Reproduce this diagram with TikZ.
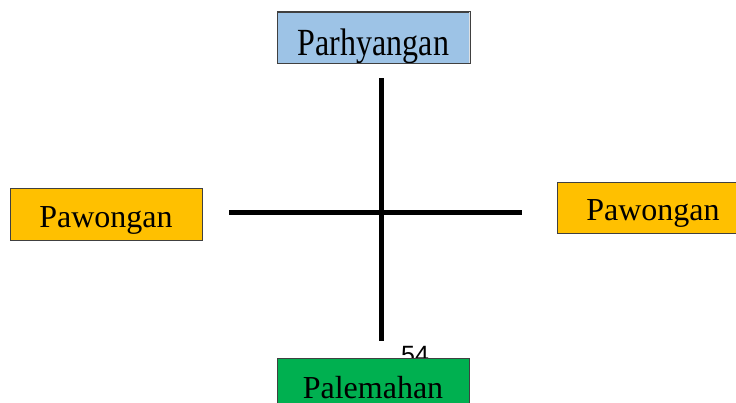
\documentclass[tikz,border=0pt]{standalone}
\usepackage{fontspec}
\setmainfont{Liberation Serif}
\newfontfamily\numfont{Liberation Sans}
\usepackage{xcolor}
\usepackage{tikz}
\usetikzlibrary{positioning, calc}

\definecolor{skyblue}{RGB}{157,195,230}
\definecolor{amber}{RGB}{255,192,0}
\definecolor{leafgreen}{RGB}{0,176,80}

\tikzset{
    box/.style={draw=black!75, line width=0.9pt, minimum width=192pt, minimum height=51pt,
        inner sep=0pt, text depth=0pt, font=\fontsize{32}{32}\selectfont},
    cross/.style={line width=5pt}
}

\begin{document}
\begin{tikzpicture}[x=1pt, y=-1pt]
        \useasboundingbox (0,0) rectangle (736,402);

        % the cross
        \coordinate (top) at (381,78);
        \coordinate (bottom) at (381,341);
        \coordinate (left) at (229,212);
        \coordinate (right) at (522,212);
        \draw[cross] (top) -- (bottom);
        \draw[cross] (left) -- (right);

        \node[anchor=base west, inner sep=0pt, font=\numfont\fontsize{25}{25}\selectfont] (page) at (401,363) {54};

        \begin{scope}
            \clip (278,12) rectangle (469,62.5);
            \node[box, fill=skyblue, text height=35pt] (parhyangan) at (373.5,37.5) {\scalebox{1}[1.2]{Parhyangan}};
        \end{scope}
        \draw[black!75, line width=0.9pt] (parhyangan.south west) rectangle (parhyangan.north east);

        \node[box, fill=amber, minimum height=52pt, text height=26pt] (pawonganL) at (106,214) {Pawongan};
        \node[box, fill=amber, text height=25pt] (pawonganR) at (653,207.5) {Pawongan};
        \node[box, fill=leafgreen, text height=29pt] (palemahan) at (373,383.5) {Palemahan};
    \end{tikzpicture}
\end{document}
